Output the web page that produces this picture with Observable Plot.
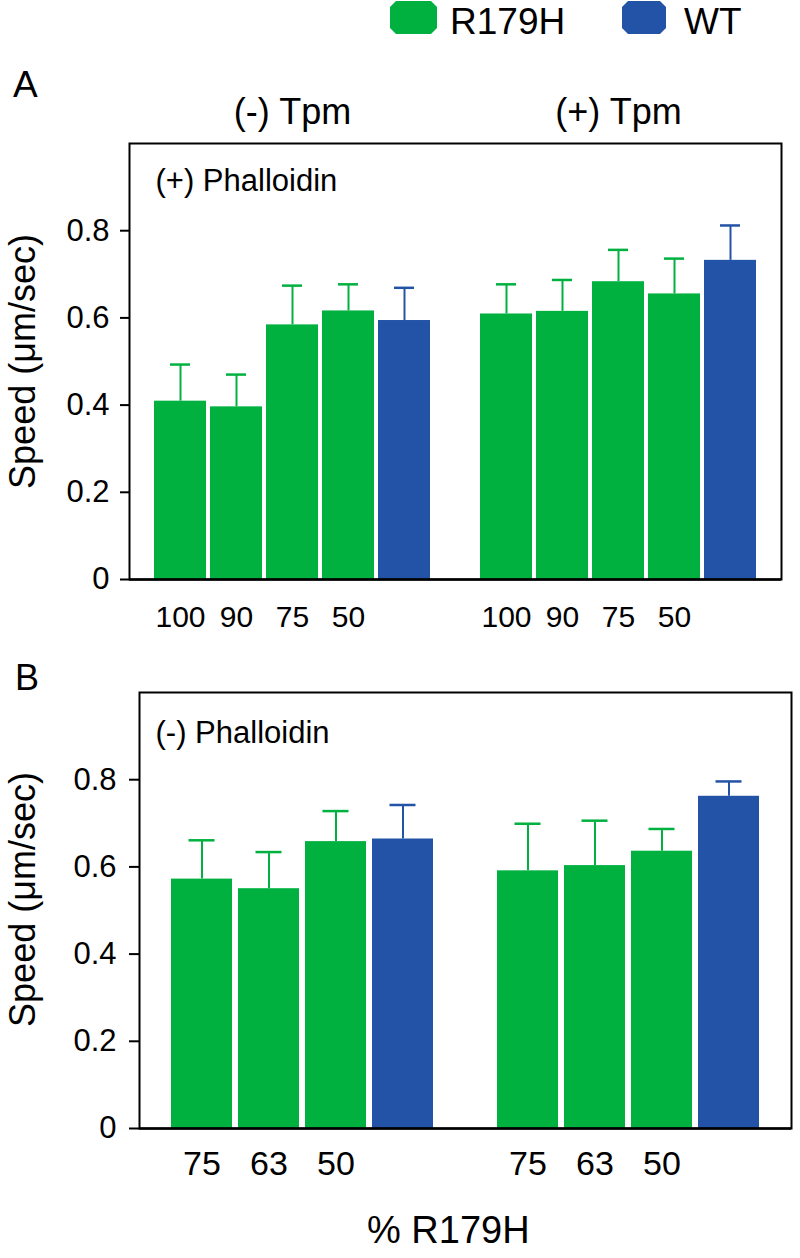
<!DOCTYPE html>
<html>
<head>
<meta charset="utf-8">
<script src="https://cdn.jsdelivr.net/npm/d3@7"></script>
<script src="https://cdn.jsdelivr.net/npm/@observablehq/plot@0.6"></script>
<style>
  body { margin: 0; background: #fff; font-family: "Liberation Sans", Arial, sans-serif; }
  #root { position: relative; width: 800px; height: 1258px; overflow: hidden; background: #fff; }
  .abs { position: absolute; line-height: 1.2; white-space: nowrap; color: #000; }
  .sw { position: absolute; clip-path: polygon(6px 0, calc(100% - 6px) 0, 100% 6px, 100% calc(100% - 6px), calc(100% - 6px) 100%, 6px 100%, 0 calc(100% - 6px), 0 6px); }
</style>
</head>
<body>
<div id="root"></div>
<script>
// ---------- data ----------
const seriesNames = ["R179H", "WT"];
const seriesColors = ["#00B140", "#2353A6"];
const groups = ["(-) Tpm", "(+) Tpm"];
const yTicks = [0, 0.2, 0.4, 0.6, 0.8];
const yLabel = "Speed (\u03bcm/sec)";
const xLabel = "% R179H";

// Panel A: (+) Phalloidin
const catsA = ["100", "90", "75", "50", "WT"];
const speedA_minusTpm = [0.409, 0.396, 0.584, 0.616, 0.594];
const errA_minusTpm   = [0.084, 0.074, 0.090, 0.061, 0.075];
const speedA_plusTpm  = [0.609, 0.615, 0.683, 0.655, 0.732];
const errA_plusTpm    = [0.068, 0.072, 0.073, 0.081, 0.080];

// Panel B: (-) Phalloidin
const catsB = ["75", "63", "50", "WT"];
const speedB_minusTpm = [0.572, 0.550, 0.658, 0.664];
const errB_minusTpm   = [0.089, 0.084, 0.070, 0.078];
const speedB_plusTpm  = [0.591, 0.603, 0.636, 0.762];
const errB_plusTpm    = [0.108, 0.103, 0.051, 0.034];

function rows(cats, speedLists, errLists) {
  const out = [];
  groups.forEach((g, gi) => {
    cats.forEach((c, i) => {
      out.push({group: g, cat: c, series: c === "WT" ? "WT" : "R179H",
                speed: speedLists[gi][i], err: errLists[gi][i]});
    });
  });
  return out;
}
const dataA = rows(catsA, [speedA_minusTpm, speedA_plusTpm], [errA_minusTpm, errA_plusTpm]);
const dataB = rows(catsB, [speedB_minusTpm, speedB_plusTpm], [errB_minusTpm, errB_plusTpm]);

const FONT = "'Liberation Sans', Arial, sans-serif";

function panel(o) {
  const marks = [
    Plot.barY(o.data, {fx: "group", x: "cat", y: "speed", fill: "series"}),
    Plot.ruleX(o.data, {fx: "group", x: "cat", y1: "speed", y2: d => d.speed + d.err, stroke: "series", strokeWidth: 2}),
    Plot.tickY(o.data, {fx: "group", x: "cat", y: d => d.speed + d.err, stroke: "series", strokeWidth: 2.5, insetLeft: o.capInset, insetRight: o.capInset}),
    Plot.frame({facet: "super", stroke: "#000", strokeWidth: 2}),
    Plot.ruleY([0], {stroke: "#000", strokeWidth: 2.5}),
    Plot.axisY({ticks: yTicks, tickSize: o.yTickSize, tickPadding: o.yTickPad, fontSize: 31, label: null, strokeWidth: 2,
                tickFormat: d => d === 0 ? "0" : String(d)}),
    Plot.axisX({tickSize: 0, tickPadding: o.xTickPad, fontSize: o.xFont, label: null, tickFormat: d => d === "WT" ? "" : d}),
    Plot.text([o.phall], {fx: () => groups[0], frameAnchor: "top-left", textAnchor: "start", lineAnchor: "top", dx: o.phallDx, dy: o.phallDy, fontSize: 31}),
    Plot.text([yLabel], {fx: () => groups[0], frameAnchor: "left", textAnchor: "middle", lineAnchor: "middle", rotate: -90, dx: o.labelDx, dy: o.labelDy, fontSize: 36})
  ];
  if (o.showFx) marks.push(Plot.axisFx({anchor: "top", tickSize: 0, tickPadding: 20, fontSize: 36, label: null}));
  return Plot.plot({
    width: 800, height: o.height,
    marginLeft: o.marginLeft, marginRight: o.marginRight, marginTop: o.marginTop, marginBottom: o.marginBottom,
    style: {fontFamily: FONT, background: "transparent", overflow: "visible", color: "#000"},
    fx: {domain: groups, padding: 0, axis: null},
    x: {domain: o.cats, paddingInner: o.padIn, paddingOuter: o.padOut, axis: null},
    y: {domain: [0, 1], axis: null},
    color: {domain: seriesNames, range: seriesColors},
    marks
  });
}

const root = document.getElementById("root");
function addDiv(cls, text, css) {
  const d = document.createElement("div");
  d.className = cls;
  if (text != null) d.textContent = text;
  Object.assign(d.style, css);
  root.appendChild(d);
  return d;
}

// legend
addDiv("sw", null, {left: "390px", top: "1px", width: "47px", height: "33px", background: seriesColors[0]});
addDiv("abs", seriesNames[0], {left: "450px", top: "-6px", fontSize: "37px", lineHeight: "1.5"});
addDiv("sw", null, {left: "622px", top: "1px", width: "44px", height: "33px", background: seriesColors[1]});
addDiv("abs", seriesNames[1], {left: "684px", top: "-6px", fontSize: "37px", lineHeight: "1.5"});

// panel letters
addDiv("abs", "A", {left: "13px", top: "63px", fontSize: "37px"});
addDiv("abs", "B", {left: "15px", top: "656px", fontSize: "36px"});

// panel A
const a = panel({
  data: dataA, cats: catsA, height: 584, marginLeft: 128, marginRight: 19, marginTop: 93, marginBottom: 55,
  padIn: 0.07, padOut: 0.4, capInset: 16, yTickSize: 9, yTickPad: 11, xTickPad: 26, xFont: 30,
  phall: "(+) Phalloidin", phallDx: 26, phallDy: 25, labelDx: -106, labelDy: 0, showFx: true
});
const da = addDiv("abs", null, {left: "0px", top: "50px", lineHeight: "0"});
da.appendChild(a);

// panel B
const b = panel({
  data: dataB, cats: catsB, height: 624, marginLeft: 138, marginRight: 9, marginTop: 58, marginBottom: 130,
  padIn: 0.09, padOut: 0.445, capInset: 17.5, yTickSize: 10, yTickPad: 13, xTickPad: 22, xFont: 34,
  phall: "(-) Phalloidin", phallDx: 16, phallDy: 28, labelDx: -116, labelDy: -11, showFx: false
});
const db = addDiv("abs", null, {left: "0px", top: "634px", lineHeight: "0"});
db.appendChild(b);

// x title
addDiv("abs", xLabel, {left: "367px", top: "1208px", fontSize: "38px"});
</script>
</body>
</html>
